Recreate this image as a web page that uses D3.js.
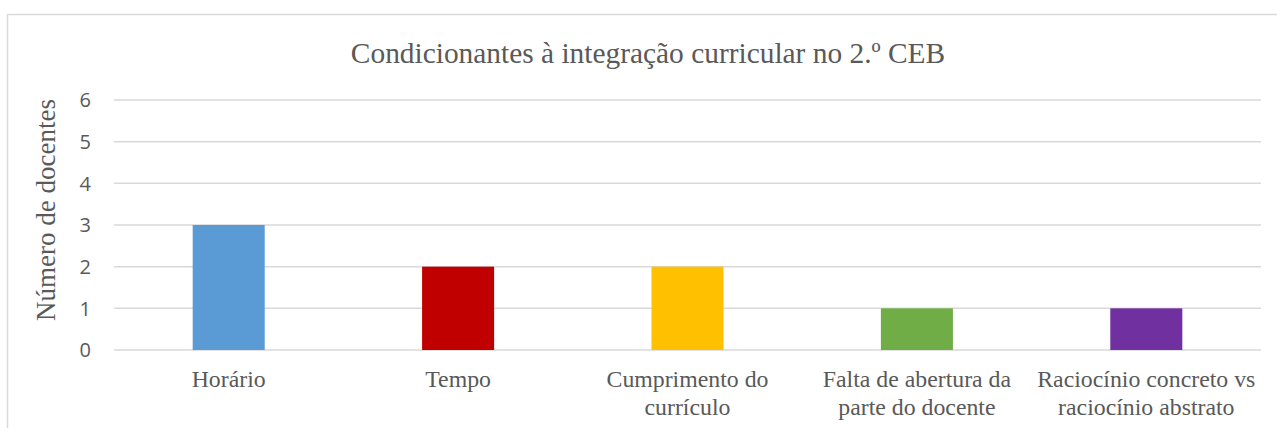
<!DOCTYPE html>
<html><head><meta charset="utf-8">
<script src="https://cdn.jsdelivr.net/npm/d3@7"></script>
<style>body{margin:0;background:#fff}svg{display:block}</style>
</head><body>
<script>
const categories = [["Horário"],["Tempo"],["Cumprimento do","currículo"],["Falta de abertura da","parte do docente"],["Raciocínio concreto vs","raciocínio abstrato"]];
const values = [3,2,2,1,1];
const colors = ["#5B9BD5","#C00000","#FFC000","#70AD47","#7030A0"];
const yTicks = [0,1,2,3,4,5,6];
const title = "Condicionantes à integração curricular no 2.º CEB";
const yTitle = "Número de docentes";

const W=1277,H=428;
const svg=d3.select("body").append("svg").attr("width",W).attr("height",H);
svg.append("rect").attr("x",7.5).attr("y",14.5).attr("width",1300).attr("height",500).attr("fill","#fff").attr("stroke","#d9d9d9").attr("stroke-width",1.5);

const x=d3.scaleBand().domain(d3.range(categories.length)).range([114,1261]).paddingInner(0).paddingOuter(0);
const y=d3.scaleLinear().domain([0,6]).range([350,100]);

const g=svg.append("g");
g.selectAll("line.grid").data(yTicks).join("line").attr("class","grid")
 .attr("x1",114).attr("x2",1261).attr("y1",d=>y(d)).attr("y2",d=>y(d))
 .attr("stroke","#d9d9d9").attr("stroke-width",1.5);

const bw=x.bandwidth()*0.314;
g.selectAll("rect.bar").data(values).join("rect").attr("class","bar")
 .attr("x",(d,i)=>x(i)+x.bandwidth()/2-bw/2).attr("width",bw)
 .attr("y",d=>y(d)).attr("height",d=>y(0)-y(d)).attr("fill",(d,i)=>colors[i]);

g.selectAll("text.yt").data(yTicks).join("text").attr("class","yt")
 .attr("x",91).attr("y",d=>y(d)).attr("dy","0.36em").attr("text-anchor","end")
 .attr("font-family","'Open Sans','Liberation Sans', Arial, sans-serif").attr("font-size",20).attr("fill","#595959").text(d=>d);

categories.forEach((lines,i)=>{
  const t=g.append("text").attr("text-anchor","middle").attr("font-family","'Liberation Serif','Times New Roman',serif")
   .attr("font-size",23.8).attr("fill","#595959");
  lines.forEach((l,j)=>t.append("tspan").attr("x",x(i)+x.bandwidth()/2).attr("y",387+j*28).text(l));
});

svg.append("text").attr("x",648).attr("y",63).attr("text-anchor","middle")
 .attr("font-family","'Liberation Serif','Times New Roman',serif").attr("font-size",29.4).attr("fill","#595959").text(title);

svg.append("text").attr("transform","translate(55,210) rotate(-90)").attr("text-anchor","middle")
 .attr("font-family","'Liberation Serif','Times New Roman',serif").attr("font-size",27).attr("fill","#595959").text(yTitle);
</script>
</body></html>
